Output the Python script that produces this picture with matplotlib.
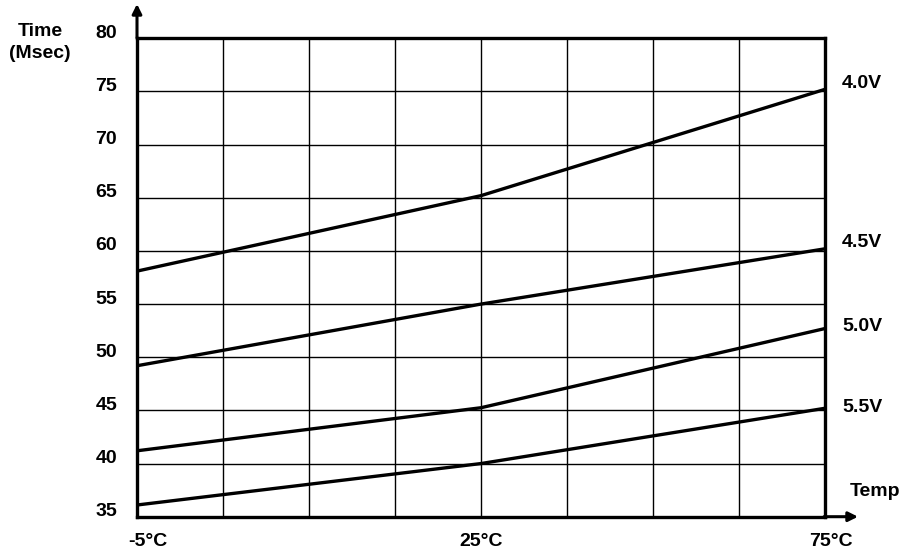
import matplotlib
matplotlib.use("Agg")
import matplotlib.pyplot as plt

plt.rcParams['font.family'] = ['Liberation Sans', 'DejaVu Sans']

# Data
temps = ["-5°C", "25°C", "75°C"]
temp_pos = [0, 4, 8]
voltages = ["4.0V", "4.5V", "5.0V", "5.5V"]
v40 = [58.1, 65.2, 75.2]
v45 = [49.2, 55.0, 60.2]
v50 = [41.2, 45.25, 52.7]
v55 = [36.1, 40.0, 45.2]
series = [v40, v45, v50, v55]
yticks = [35, 40, 45, 50, 55, 60, 65, 70, 75, 80]

FS = 14
fig = plt.figure(figsize=(9.09, 5.55), dpi=100)
ax = fig.add_axes([137/909, 1-516.7/555, (825-137)/909, (516.7-38.3)/555])
ax.set_xlim(0, 8)
ax.set_ylim(35, 80)

for s in series:
    ax.plot(temp_pos, s, color='black', lw=2.4, solid_capstyle='butt', zorder=3)

ax.set_xticks(range(0, 9))
ax.set_yticks(yticks)
ax.grid(True, color='black', lw=1.0)
ax.tick_params(length=0, labelbottom=False, labelleft=False)

# y tick labels
for v in yticks:
    ax.annotate(str(v), xy=(0, v), xytext=(-20, 5), textcoords='offset pixels',
                fontsize=FS, fontweight='bold', ha='right', va='center', annotation_clip=False)
# x tick labels
xoffs = [11, 0, 6]
for p, t, dx in zip(temp_pos, temps, xoffs):
    ax.annotate(t, xy=(p, 35), xytext=(dx, -25), textcoords='offset pixels',
                fontsize=FS, fontweight='bold', ha='center', va='center', annotation_clip=False)

for sp in ax.spines.values():
    sp.set_linewidth(2.4)
    sp.set_color('black')

# axis arrows
ax.annotate('', xy=(137/909, 1-4/555), xytext=(137/909, 1-38/555), xycoords='figure fraction',
            arrowprops=dict(arrowstyle='-|>', color='black', lw=2.2, mutation_scale=14, shrinkA=0, shrinkB=0))
ax.annotate('', xy=(858/909, 1-516.7/555), xytext=(824/909, 1-516.7/555), xycoords='figure fraction',
            arrowprops=dict(arrowstyle='-|>', color='black', lw=2.2, mutation_scale=14, shrinkA=0, shrinkB=0))

# series labels
label_dy = [6, 6.5, 2, 1]
for s, name, dy in zip(series, voltages, label_dy):
    ax.annotate(name, xy=(8, s[-1]), xytext=(17, dy), textcoords='offset pixels',
                fontsize=FS, fontweight='bold', ha='left', va='center', annotation_clip=False)

fig.text(850/909, 1-491.7/555, "Temp", fontsize=FS, fontweight='bold', ha='left', va='center')
fig.text(40/909, 1-32/555, "Time", fontsize=FS, fontweight='bold', ha='center', va='center')
fig.text(40/909, 1-53/555, "(Msec)", fontsize=FS, fontweight='bold', ha='center', va='center')

fig.savefig("out.png", dpi=100)
